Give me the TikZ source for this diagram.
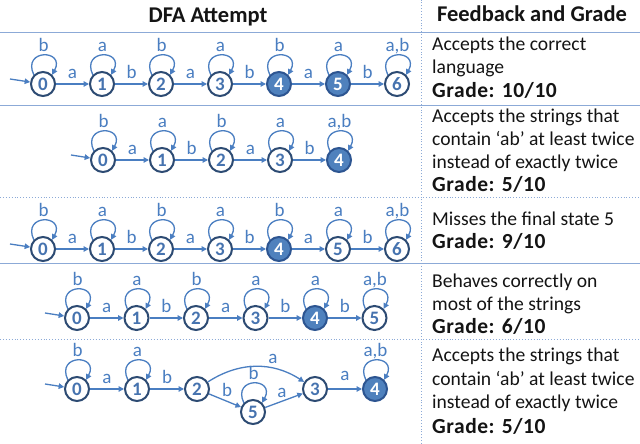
\documentclass[tikz,border=0pt]{standalone}
\usepackage{fontspec}
\setmainfont{Carlito}
\usetikzlibrary{arrows.meta}
\definecolor{edgeblue}{RGB}{74,126,193}
\definecolor{ringblue}{RGB}{45,75,115}
\definecolor{fillblue}{RGB}{79,129,189}
\definecolor{fillring}{RGB}{45,85,145}
\definecolor{numblue}{RGB}{70,115,175}
\definecolor{lineblue}{RGB}{140,170,215}
\definecolor{txt}{RGB}{20,20,20}
\tikzset{
  state/.style={circle, draw=ringblue, line width=2pt, fill=white, minimum size=24pt, inner sep=0pt,
    font=\fontsize{19}{19}\selectfont\bfseries, text=numblue},
  accept/.style={state, fill=fillblue, draw=fillring, text=white},
  edge/.style={draw=edgeblue, line width=1.3pt, -{Triangle[length=5.5pt,width=5.5pt]}},
  lbl/.style={text=edgeblue, font=\fontsize{19}{19}\selectfont, inner sep=0pt},
  elbl/.style={lbl, midway, anchor=base, yshift=5pt},
  llbl/.style={lbl, pos=0.5, anchor=base, yshift=4pt},
  cell/.style={anchor=base west, inner sep=0pt, text=txt, font=\fontsize{19.6}{23}\selectfont},
  gcell/.style={cell, font=\fontsize{21.5}{23}\selectfont\bfseries\addfontfeatures{LetterSpace=2.5}},
  head/.style={text=txt, font=\fontsize{22.5}{22.5}\selectfont\bfseries},
  solidsep/.style={draw=lineblue, line width=1pt},
  dotsep/.style={draw=lineblue, line width=0.9pt, dotted},
}
\newcommand\selfloop[2]{\draw[edge] (#1.135) .. controls +(115:29) and +(62:29) .. (#1.45) node[llbl] {#2};}
\begin{document}
\begin{tikzpicture}[x=1pt,y=1pt]
\useasboundingbox[fill=white] (0,0) rectangle (640,444);
% grid
\draw[solidsep] (0,411) -- (640,411);
\draw[solidsep] (0,338) -- (640,338);
\draw[dotsep] (0,247) -- (640,247);
\draw[solidsep] (0,180) -- (640,180);
\draw[dotsep] (0,105) -- (640,105);
\draw[dotsep] (421,0) -- (421,444);
% header
\node[head] (h1) at (208,427) {DFA Attempt};
\node[head] (h2) at (532,430) {Feedback and Grade};

% Row 1
\foreach \i/\x in {0/43,1/102,2/161,3/220,6/397} \node[state] (r1s\i) at (\x,360) {\i};
\foreach \i/\x in {4/279,5/338} \node[accept] (r1s\i) at (\x,360) {\i};
\coordinate (r1in) at (10,365);
\draw[edge] (r1in) -- (r1s0);
\draw[edge] (r1s0) -- (r1s1) node[elbl] {a};
\draw[edge] (r1s1) -- (r1s2) node[elbl] {b};
\draw[edge] (r1s2) -- (r1s3) node[elbl] {a};
\draw[edge] (r1s3) -- (r1s4) node[elbl] {b};
\draw[edge] (r1s4) -- (r1s5) node[elbl] {a};
\draw[edge] (r1s5) -- (r1s6) node[elbl] {b};
\selfloop{r1s0}{b}\selfloop{r1s1}{a}\selfloop{r1s2}{b}\selfloop{r1s3}{a}
\selfloop{r1s4}{b}\selfloop{r1s5}{a}\selfloop{r1s6}{a,b}

% Row 2
\foreach \i/\x in {0/103,1/162,2/221,3/280} \node[state] (r2s\i) at (\x,284) {\i};
\node[accept] (r2s4) at (339,284) {4};
\coordinate (r2in) at (71,289);
\draw[edge] (r2in) -- (r2s0);
\draw[edge] (r2s0) -- (r2s1) node[elbl] {a};
\draw[edge] (r2s1) -- (r2s2) node[elbl] {b};
\draw[edge] (r2s2) -- (r2s3) node[elbl] {a};
\draw[edge] (r2s3) -- (r2s4) node[elbl] {b};
\selfloop{r2s0}{b}\selfloop{r2s1}{a}\selfloop{r2s2}{b}\selfloop{r2s3}{a}\selfloop{r2s4}{a,b}

% Row 3
\foreach \i/\x in {0/43,1/102,2/161,3/220,5/338,6/397} \node[state] (r3s\i) at (\x,195) {\i};
\node[accept] (r3s4) at (279,195) {4};
\coordinate (r3in) at (10,200);
\draw[edge] (r3in) -- (r3s0);
\draw[edge] (r3s0) -- (r3s1) node[elbl] {a};
\draw[edge] (r3s1) -- (r3s2) node[elbl] {b};
\draw[edge] (r3s2) -- (r3s3) node[elbl] {a};
\draw[edge] (r3s3) -- (r3s4) node[elbl] {b};
\draw[edge] (r3s4) -- (r3s5) node[elbl] {a};
\draw[edge] (r3s5) -- (r3s6) node[elbl] {b};
\selfloop{r3s0}{b}\selfloop{r3s1}{a}\selfloop{r3s2}{b}\selfloop{r3s3}{a}
\selfloop{r3s4}{b}\selfloop{r3s5}{a}\selfloop{r3s6}{a,b}

% Row 4
\foreach \i/\x in {0/77,1/136.5,2/196,3/255.5,5/374.5} \node[state] (r4s\i) at (\x,126) {\i};
\node[accept] (r4s4) at (315,126) {4};
\coordinate (r4in) at (45,131);
\draw[edge] (r4in) -- (r4s0);
\draw[edge] (r4s0) -- (r4s1) node[elbl] {a};
\draw[edge] (r4s1) -- (r4s2) node[elbl] {b};
\draw[edge] (r4s2) -- (r4s3) node[elbl] {a};
\draw[edge] (r4s3) -- (r4s4) node[elbl] {b};
\draw[edge] (r4s4) -- (r4s5) node[elbl] {b};
\selfloop{r4s0}{b}\selfloop{r4s1}{a}\selfloop{r4s2}{b}\selfloop{r4s3}{a}
\selfloop{r4s4}{a}\selfloop{r4s5}{a,b}

% Row 5
\foreach \i/\x in {0/77,1/137,2/197,3/315} \node[state] (r5s\i) at (\x,55) {\i};
\node[accept] (r5s4) at (375,55) {4};
\node[state] (r5s5) at (253,32) {5};
\coordinate (r5in) at (45,60);
\draw[edge] (r5in) -- (r5s0);
\draw[edge] (r5s0) -- (r5s1) node[elbl] {a};
\draw[edge] (r5s1) -- (r5s2) node[elbl] {b};
\draw[edge] (r5s2) to[bend left=33] node[lbl, pos=0.5, anchor=base, xshift=17pt, yshift=3pt] {a} (r5s3);
\draw[edge] (r5s2) -- (r5s5) node[lbl, pos=0.5, anchor=base, xshift=2pt, yshift=4pt] {b};
\draw[edge] (r5s5) -- (r5s3) node[lbl, pos=0.5, anchor=base, xshift=-2pt, yshift=3pt] {a};
\draw[edge] (r5s3) -- (r5s4) node[elbl, yshift=3pt] {a};
\selfloop{r5s0}{b}\selfloop{r5s1}{a}\selfloop{r5s5}{b}\selfloop{r5s4}{a,b}

% Feedback column
\node[cell] (t1a) at (432,393) {Accepts the correct};
\node[cell] (t1b) at (432,370) {language};
\node[gcell] (t1c) at (432,346) {Grade: 10/10};
\node[cell] (t2a) at (432,321) {Accepts the strings that};
\node[cell] (t2b) at (432,298) {contain `ab’ at least twice};
\node[cell] (t2c) at (432,275) {instead of exactly twice};
\node[gcell] (t2d) at (432,252) {Grade: 5/10};
\node[cell] (t3a) at (432,218) {Misses the final state 5};
\node[gcell] (t3b) at (432,195) {Grade: 9/10};
\node[cell] (t4a) at (432,156) {Behaves correctly on};
\node[cell] (t4b) at (432,133) {most of the strings};
\node[gcell] (t4c) at (432,110) {Grade: 6/10};
\node[cell] (t5a) at (432,82) {Accepts the strings that};
\node[cell] (t5b) at (432,58) {contain `ab’ at least twice};
\node[cell] (t5c) at (432,35) {instead of exactly twice};
\node[gcell] (t5d) at (432,10) {Grade: 5/10};
\end{tikzpicture}
\end{document}
